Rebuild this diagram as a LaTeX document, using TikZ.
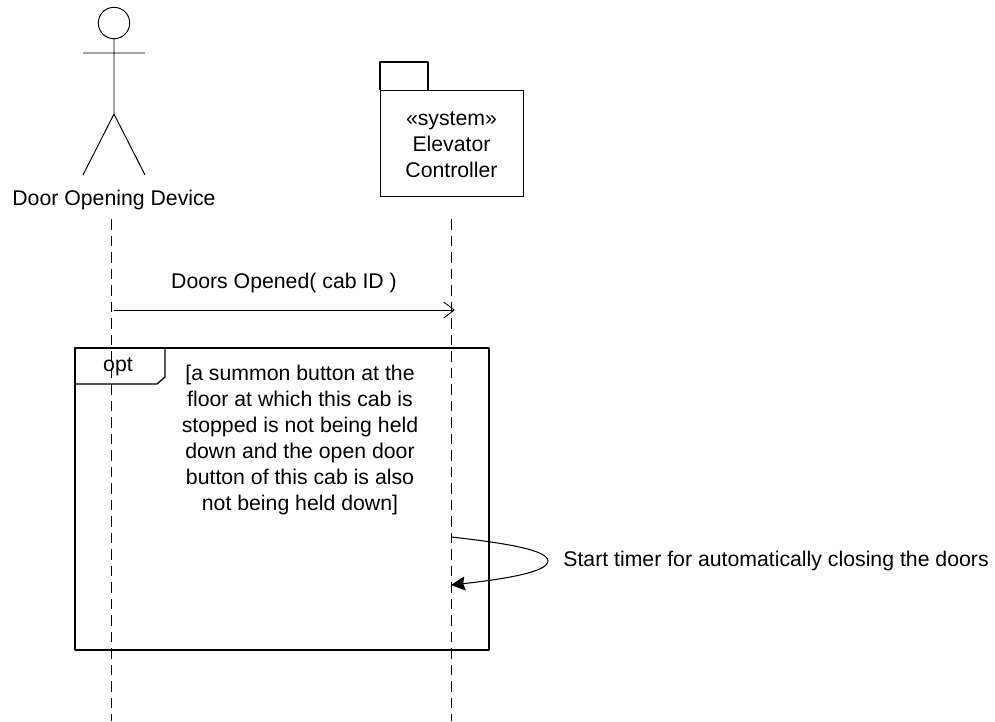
\documentclass[tikz,border=0pt]{standalone}
\usepackage{fontspec}
\setmainfont{Liberation Sans}
\usetikzlibrary{arrows.meta}
\tikzset{
	lifeline/.style={line width=0.55pt, dash pattern=on 6pt off 3.4pt},
	umlbox/.style={draw, line width=0.75pt},
	umltext/.style={align=center, inner sep=0pt, font=\fontsize{12.1}{14.8}\selectfont},
	message/.style={line width=0.5pt, -{Straight Barb[length=6pt,width=9pt,line width=0.5pt]}},
	selfmessage/.style={line width=0.6pt, -{Stealth[length=8pt,width=8pt,inset=1pt]}}
}
\begin{document}
\begin{tikzpicture}[x=0.02cm, y=-0.02cm, line join=round, font=\fontsize{12.1}{14.8}\selectfont]
			\useasboundingbox (0,0) rectangle (995,721);
			% actor
			\draw[line width=0.55pt] (114,23) circle (15.7);
			\draw[line width=0.55pt] (114,38.7) -- (114,114) (83,53) -- (145,53) (83,175) -- (114,114) -- (145,175);
			\node[umltext] (devlabel) at (114,200) {Door Opening Device};
			% package
			\draw[umlbox] (380,90) -- (380,62) -- (428,62) -- (428,90);
			\node[umlbox, minimum width=81.4pt, minimum height=60.3pt, inner sep=0pt, anchor=north west] (ctrlbox) at (380,90) {};
			\node[umltext] (ctrllabel) at (451.5,144.5) {«system»\\Elevator\\Controller};
			% lifelines
			\coordinate (devtop) at (111,219);
			\coordinate (devbot) at (111,721);
			\coordinate (ctrltop) at (451.5,219);
			\coordinate (ctrlbot) at (451.5,721);
			\draw[lifeline] (devtop) -- (devbot);
			\draw[lifeline] (ctrltop) -- (ctrlbot);
			% doors opened
			\coordinate (msgstart) at (114,310);
			\coordinate (msgend) at (455,310);
			\draw[message] (msgstart) -- (msgend);
			\node[umltext] (msglabel) at (284,283) {Doors Opened( cab ID )};
			% opt frame
			\draw[umlbox] (75,348) rectangle (489,650);
			\draw[umlbox] (75,384) -- (157,384) -- (165,377) -- (165,348);
			\node[umltext] (optlabel) at (118,367) {opt};
			\node[umltext] (guard) at (300,440) {[a summon button at the\\floor at which this cab is\\stopped is not being held\\down and the open door\\button of this cab is also\\not being held down]};
			% self message
			\coordinate (selfstart) at (451.5,537);
			\coordinate (selfend) at (451,585);
			\draw[selfmessage] (selfstart) .. controls (505,543) and (548,550) .. (548,561) .. controls (548,572) and (505,579) .. (selfend);
			\node[umltext, anchor=west] (selflabel) at (563,561) {Start timer for automatically closing the doors};
		\end{tikzpicture}
\end{document}
